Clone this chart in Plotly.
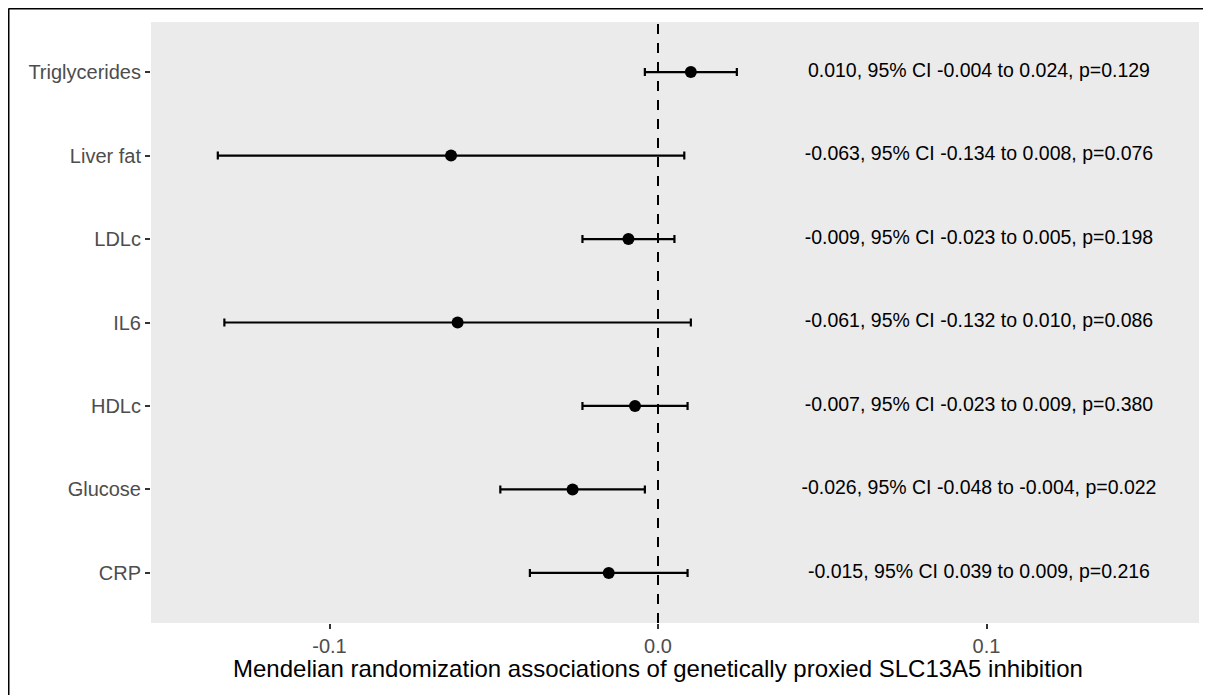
import plotly.graph_objects as go

outcomes = ["CRP", "Glucose", "HDLc", "IL6", "LDLc", "Liver fat", "Triglycerides"]
estimate = [-0.015, -0.026, -0.007, -0.061, -0.009, -0.063, 0.010]
ci_low = [-0.039, -0.048, -0.023, -0.132, -0.023, -0.134, -0.004]
ci_high = [0.009, -0.004, 0.009, 0.010, 0.005, 0.008, 0.024]
labels = [
    "-0.015, 95% CI 0.039 to 0.009, p=0.216",
    "-0.026, 95% CI -0.048 to -0.004, p=0.022",
    "-0.007, 95% CI -0.023 to 0.009, p=0.380",
    "-0.061, 95% CI -0.132 to 0.010, p=0.086",
    "-0.009, 95% CI -0.023 to 0.005, p=0.198",
    "-0.063, 95% CI -0.134 to 0.008, p=0.076",
    "0.010, 95% CI -0.004 to 0.024, p=0.129",
]
label_x = 0.0977
x_ticks = [-0.1, 0.0, 0.1]
x_tick_text = ["-0.1", "0.0", "0.1"]
x_title = "Mendelian randomization associations of genetically proxied SLC13A5 inhibition"

FONT = "Arial, Liberation Sans, sans-serif"

# page body has an 8px margin; figure is sized to fill the rest of the window
W, H = 1203, 687
L, R, T, B = 143, 12, 14, 72
PW, PH = W - L - R, H - T - B

fig = go.Figure()
fig.add_trace(go.Scatter(
    x=estimate, y=outcomes, mode="markers",
    marker=dict(color="black", size=12),
    error_x=dict(type="data", symmetric=False,
                 array=[h - e for h, e in zip(ci_high, estimate)],
                 arrayminus=[e - l for e, l in zip(estimate, ci_low)],
                 color="black", thickness=2.2, width=4),
    showlegend=False, hoverinfo="skip",
))
fig.add_trace(go.Scatter(
    x=[label_x] * len(outcomes), y=outcomes, mode="text", text=labels,
    textposition="middle center",
    textfont=dict(family=FONT, size=19.5, color="black"),
    showlegend=False, hoverinfo="skip",
))

fig.add_vline(x=0, line=dict(color="black", width=2, dash="10px,9px"), layer="above")

# outer border (top and left edges visible)
bx = (-L + 0.5) / PW
by = 1 + (T - 0.5) / PH
fig.add_shape(type="line", xref="paper", yref="paper",
              x0=bx, x1=1.2, y0=by, y1=by, line=dict(color="black", width=2))
fig.add_shape(type="line", xref="paper", yref="paper",
              x0=bx, x1=bx, y0=by, y1=-0.2, line=dict(color="black", width=2))

# x-axis title
fig.add_annotation(text=x_title, xref="x", x=0, yref="paper", y=-(668 - 8 - T - PH) / PH,
                   xanchor="center", yanchor="middle", showarrow=False,
                   font=dict(family=FONT, size=24, color="black"))

fig.update_layout(
    width=W, height=H,
    margin=dict(l=L, r=R, t=T, b=B),
    paper_bgcolor="white", plot_bgcolor="#EBEBEB",
    font=dict(family=FONT),
)
fig.update_xaxes(
    range=[(151 - 658) / 3285, (1199 - 658) / 3285],
    tickvals=x_ticks, ticktext=x_tick_text,
    showgrid=False, zeroline=False,
    ticks="outside", ticklen=5, tickwidth=1.5, tickcolor="#333333",
    tickfont=dict(size=20, color="#4D4D4D"),
)
fig.update_yaxes(
    type="category", categoryorder="array", categoryarray=outcomes,
    range=[-0.6, 6.6],
    showgrid=False, zeroline=False,
    ticks="outside", ticklen=5, tickwidth=1.5, tickcolor="#333333",
    tickfont=dict(size=20, color="#4D4D4D"),
)

fig.write_html("out.html")
